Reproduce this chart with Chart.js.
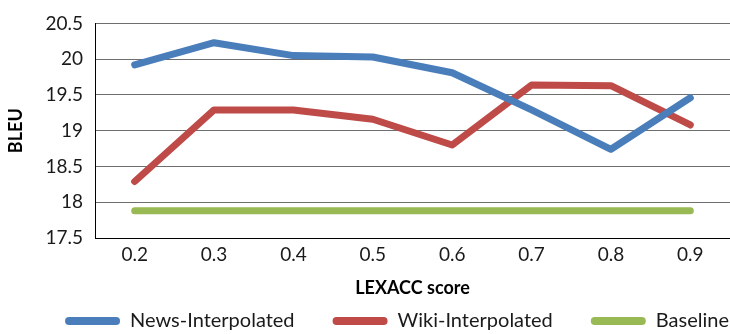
<!DOCTYPE html>
<html>
<head>
<meta charset="utf-8">
<script src="https://cdn.jsdelivr.net/npm/chart.js@4/dist/chart.umd.min.js"></script>
<style>
  html, body { margin: 0; padding: 0; background: #fff; overflow: hidden; }
  #wrap { width: 730px; height: 334px; position: relative; }
</style>
</head>
<body>
<div id="wrap"><canvas id="c" width="730" height="334"></canvas></div>
<script>
// LEXACC score thresholds on the x axis
const scores = ['0.2', '0.3', '0.4', '0.5', '0.6', '0.7', '0.8', '0.9'];

// BLEU per threshold
const newsInterpolated = [19.92, 20.23, 20.05, 20.03, 19.81, 19.29, 18.74, 19.46];
const wikiInterpolated = [18.29, 19.29, 19.29, 19.16, 18.80, 19.64, 19.63, 19.08];
const baseline = [17.88, 17.88, 17.88, 17.88, 17.88, 17.88, 17.88, 17.88];

const seriesNames = ['News-Interpolated', 'Wiki-Interpolated', 'Baseline'];
const seriesColors = ['#4A7EBB', '#BE4B48', '#98B954'];

const yMin = 17.5, yMax = 20.5, yStep = 0.5;

const FONT = 'Lato, "Liberation Sans", sans-serif';

// keeps the three legend entries on one row and nudges it into place
const legendPlacement = {
  id: 'legendPlacement',
  beforeLayout(chart) {
    const lg = chart.legend;
    if (!lg || lg._oneRow) return;
    const fit = lg.fit.bind(lg);
    lg.fit = function () {
      const mw = this.maxWidth;
      this.maxWidth = 2000;
      fit();
      this.maxWidth = mw;
      this.width = mw;
    };
    lg._oneRow = true;
  },
  afterLayout(chart) {
    const lg = chart.legend;
    if (!lg) return;
    lg.left = 2;
    lg.right = 792;
    lg.top -= 27;
    lg.bottom = chart.height;
  }
};

function line(label, data, color) {
  return {
    label, data,
    borderColor: color,
    backgroundColor: color,
    borderWidth: 7,
    borderCapStyle: 'round',
    borderJoinStyle: 'round',
    pointRadius: 0,
    pointHoverRadius: 0,
    tension: 0,
    fill: false
  };
}

new Chart(document.getElementById('c'), {
  type: 'line',
  data: {
    labels: scores,
    datasets: [
      line(seriesNames[0], newsInterpolated, seriesColors[0]),
      line(seriesNames[1], wikiInterpolated, seriesColors[1]),
      line(seriesNames[2], baseline, seriesColors[2])
    ]
  },
  options: {
    responsive: false,
    animation: false,
    devicePixelRatio: 1,
    layout: { padding: { top: 10, right: 0, bottom: 0, left: 0 } },
    plugins: {
      tooltip: { enabled: false },
      legend: {
        position: 'bottom',
        maxHeight: 34,
        labels: {
          font: { family: FONT, size: 20 },
          color: '#1a1a1a',
          boxWidth: 55,
          boxHeight: 8,
          useBorderRadius: true,
          borderRadius: 4,
          padding: 38,
          generateLabels(chart) {
            const items = Chart.defaults.plugins.legend.labels.generateLabels(chart);
            items.forEach((it, i) => {
              it.fillStyle = seriesColors[i];
              it.strokeStyle = seriesColors[i];
              it.lineWidth = 0;
              it.borderRadius = 4;
            });
            return items;
          }
        }
      }
    },
    scales: {
      x: {
        offset: true,
        grid: { display: false, drawTicks: false },
        border: { display: true, color: '#000', width: 1 },
        ticks: {
          font: { family: FONT, size: 19 },
          color: '#1a1a1a',
          padding: 5
        },
        title: {
          display: true,
          text: 'LEXACC score',
          font: { family: FONT, size: 18, weight: 'bold' },
          color: '#000',
          padding: { top: 0, bottom: 1 }
        },
        afterFit(scale) { scale.height = 62; }
      },
      y: {
        min: yMin,
        max: yMax,
        grid: {
          drawTicks: false,
          color: (ctx) => (ctx.tick && ctx.tick.value === yMin ? '#000' : '#6e6e6e'),
          lineWidth: 1
        },
        border: { display: true, color: '#000', width: 1 },
        ticks: {
          stepSize: yStep,
          font: { family: FONT, size: 19 },
          color: '#1a1a1a',
          padding: 12,
          callback: (v) => String(v)
        },
        title: {
          display: true,
          text: 'BLEU',
          font: { family: FONT, size: 18, weight: 'bold' },
          color: '#000',
          padding: { top: 5, bottom: 0 }
        },
        afterFit(scale) { scale.width = 95; }
      }
    }
  },
  plugins: [legendPlacement]
});
</script>
</body>
</html>
